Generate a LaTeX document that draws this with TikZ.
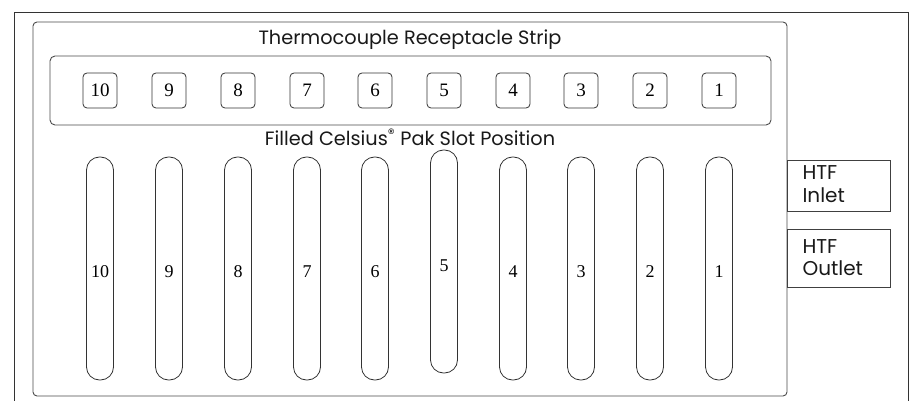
\documentclass[tikz,border=0pt]{standalone}
\usepackage{fontspec}
\setmainfont{Poppins}
\newfontfamily\numfont{Liberation Serif}
\begin{document}
\begin{tikzpicture}[x=1pt,y=-1pt,
  frame/.style={draw=black!80,line width=0.9pt},
  panel/.style={draw=black!70,line width=0.9pt,rounded corners=4pt},
  jack/.style={draw=black!80,line width=0.8pt,rounded corners=4pt,
    minimum width=34pt,minimum height=35pt,inner sep=0pt,
    font=\numfont\fontsize{19}{19}\selectfont},
  slot/.style={draw=black!80,line width=0.8pt,rounded corners=13pt,
    minimum width=27pt,inner sep=0pt},
  slotnum/.style={font=\numfont\fontsize{18}{18}\selectfont,anchor=base},
  port/.style={draw=black!75,line width=0.8pt},
  caption/.style={font=\fontsize{19.3}{19.3}\selectfont,anchor=base,text=black!90},
  porttext/.style={font=\fontsize{20}{20}\selectfont,anchor=base west,text=black!90}]
\useasboundingbox (0,0) rectangle (911,401);
\fill[white] (0,0) rectangle (911,401);

% outer housing, open at the bottom
\draw[frame] (14,401) -- (14,12) -- (908,12) -- (908,401);

% main panel
\draw[panel] (33,22) rectangle (787,396);
\node[caption] (title) at (410,45) {Thermocouple Receptacle Strip};

% receptacle strip
\draw[panel,rounded corners=5pt] (50,56) rectangle (771,125);

% jacks 10 ... 1 and slots 10 ... 1
\foreach \i/\x in {10/100,9/169,8/238,7/307,6/375,4/513,3/581,2/650,1/719}{
  \node[jack] (j\i) at (\x,90.5) {\i};
  \node[slot,minimum height=223pt] (s\i) at (\x,268.5) {};
  \node[slotnum] (n\i) at (\x,277) {\i};
}
\node[jack] (j5) at (444,90.5) {5};
\node[slot,minimum height=223pt] (s5) at (444,261.5) {};
\node[slotnum] (n5) at (444,271) {5};

\node[caption] (sub) at (410,146) {Filled Celsius\textsuperscript{\textregistered} Pak Slot Position};

% heat transfer fluid ports
\draw[port] (787,160) rectangle (890,211);
\node[porttext] (inlet) at (799,180) {HTF};
\node[porttext] (inlet2) at (799,203) {Inlet};
\draw[port] (787,229) rectangle (890,287);
\node[porttext] (outlet) at (799,253) {HTF};
\node[porttext] (outlet2) at (799,275) {Outlet};
\end{tikzpicture}
\end{document}
